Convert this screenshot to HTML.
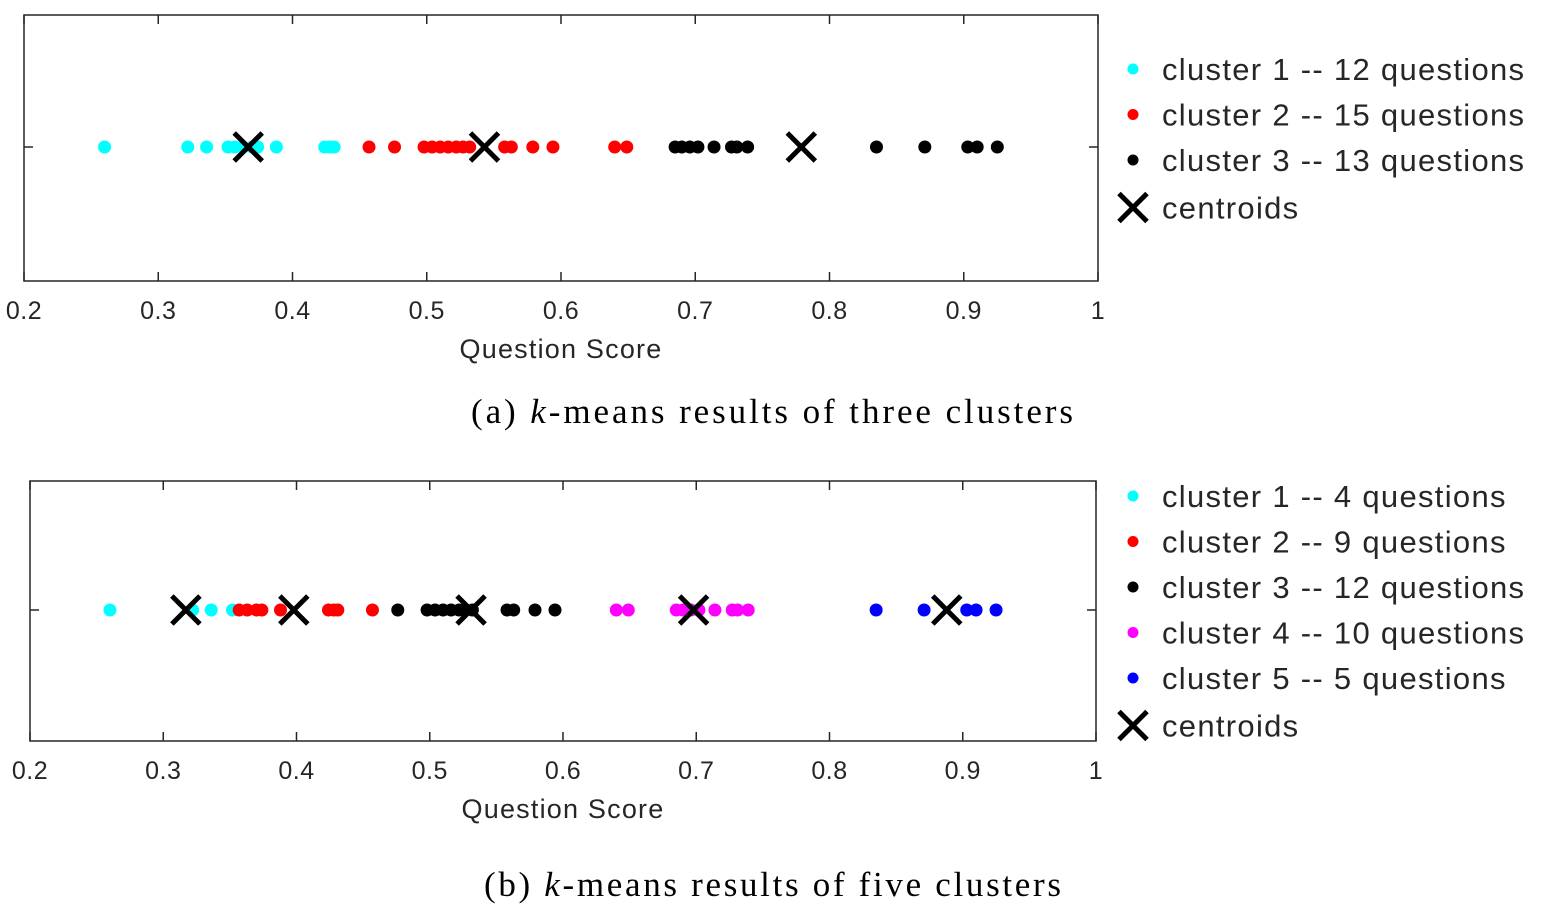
<!DOCTYPE html>
<html><head><meta charset="utf-8"><style>
body{margin:0;background:#fff;}
svg{display:block;}
.tk{font-family:"Liberation Sans",sans-serif;font-size:25px;letter-spacing:0.5px;fill:#262626;}
.tt{font-family:"Liberation Sans",sans-serif;font-size:27px;letter-spacing:1.2px;fill:#262626;}
.lg{font-family:"Liberation Sans",sans-serif;font-size:31px;letter-spacing:1.3px;fill:#262626;}
.cap{font-family:"Liberation Serif",serif;font-size:35px;fill:#000;}
</style></head><body>
<svg id="s" width="1544" height="908" xmlns="http://www.w3.org/2000/svg">
<text class="cap" x="471" y="423" textLength="602" lengthAdjust="spacing">(a) <tspan font-style="italic">k</tspan>-means results of three clusters</text>
<text class="cap" x="484" y="896" textLength="577" lengthAdjust="spacing">(b) <tspan font-style="italic">k</tspan>-means results of five clusters</text>
</svg>
<script>
const ticks=[0.2,0.3,0.4,0.5,0.6,0.7,0.8,0.9,1];
const tickLabels=["0.2","0.3","0.4","0.5","0.6","0.7","0.8","0.9","1"];
const scores=[0.260,0.322,0.336,0.352,0.357,0.363,0.370,0.374,0.388,0.424,0.428,0.431,0.457,0.476,0.498,0.504,0.510,0.516,0.522,0.527,0.532,0.558,0.563,0.579,0.594,0.640,0.649,0.685,0.690,0.696,0.702,0.714,0.727,0.731,0.739,0.835,0.871,0.903,0.910,0.925];
const clustersA=[1,1,1,1,1,1,1,1,1,1,1,1,2,2,2,2,2,2,2,2,2,2,2,2,2,2,2,3,3,3,3,3,3,3,3,3,3,3,3];
const centroidsA=[0.367,0.543,0.779];
const clustersB=[1,1,1,1,2,2,2,2,2,2,2,2,2,3,3,3,3,3,3,3,3,3,3,3,3,4,4,4,4,4,4,4,4,4,4,5,5,5,5,5];
const centroidsB=[0.317,0.398,0.531,0.698,0.888];
const legendA=["cluster 1 -- 12 questions","cluster 2 -- 15 questions","cluster 3 -- 13 questions"];
const legendB=["cluster 1 -- 4 questions","cluster 2 -- 9 questions","cluster 3 -- 12 questions","cluster 4 -- 10 questions","cluster 5 -- 5 questions"];
const colors=["#00ffff","#ff0000","#000000","#ff00ff","#0000ff"];
const NS="http://www.w3.org/2000/svg";
const svg=document.getElementById('s');
function mk(t,a,p){const e=document.createElementNS(NS,t);for(const k in a)e.setAttribute(k,a[k]);(p||svg).appendChild(e);return e;}
function drawX(g,cx,cy){const s=14;
 mk('path',{d:`M${cx-s} ${cy-s}L${cx+s} ${cy+s}M${cx+s} ${cy-s}L${cx-s} ${cy+s}`,stroke:'#000','stroke-width':5,fill:'none'},g);}
function chart(id,L,R,T,B,yc,cl,cents,legend,lx,ly,ldy){
 const g=mk('g',{});
 
 
 const xs=v=>L+(v-0.2)/(0.8)*(R-L);
 const box=mk('rect',{x:L,y:T,width:R-L,height:B-T,fill:'none',stroke:'#262626','stroke-width':1.5},g);
 
 
 ticks.forEach((t,i)=>{const x=xs(t);
  mk('line',{x1:x,y1:B,x2:x,y2:B-9,stroke:'#262626','stroke-width':1.5},g);
  mk('line',{x1:x,y1:T,x2:x,y2:T+9,stroke:'#262626','stroke-width':1.5},g);
  const tx=mk('text',{x:x,y:B+38,'text-anchor':'middle',class:'tk'},g);tx.textContent=tickLabels[i];
  
  });
 mk('line',{x1:L,y1:yc,x2:L+9,y2:yc,stroke:'#262626','stroke-width':1.5},g);
 mk('line',{x1:R,y1:yc,x2:R-9,y2:yc,stroke:'#262626','stroke-width':1.5},g);
 const xt=mk('text',{x:(L+R)/2,y:B+77,'text-anchor':'middle',class:'tt'},g);xt.textContent='Question Score';
 
 
 scores.forEach((v,i)=>{const c=mk('circle',{cx:xs(v),cy:yc,r:6.5,fill:colors[cl[i]-1]},g);
  
  });
 cents.forEach(v=>drawX(g,xs(v),yc));
 legend.forEach((t,i)=>{const y=ly+i*ldy;
  const d=mk('circle',{cx:lx,cy:y,r:5.5,fill:colors[i]},g);
  
  
  const tx=mk('text',{x:lx+29,y:y+11,class:'lg'},g);tx.textContent=t;
  
  });
 const y=ly+legend.length*ldy+2;
 drawX(g,lx,y);
 const tc=mk('text',{x:lx+29,y:y+11,class:'lg'},g);tc.textContent='centroids';
 
 
}
chart('chart-three-clusters',24,1098,15,281,147,clustersA,centroidsA,legendA,1133,69,45.5);
chart('chart-five-clusters',30,1096,481,741,610,clustersB,centroidsB,legendB,1133,496,45.5);
</script>
</body></html>
